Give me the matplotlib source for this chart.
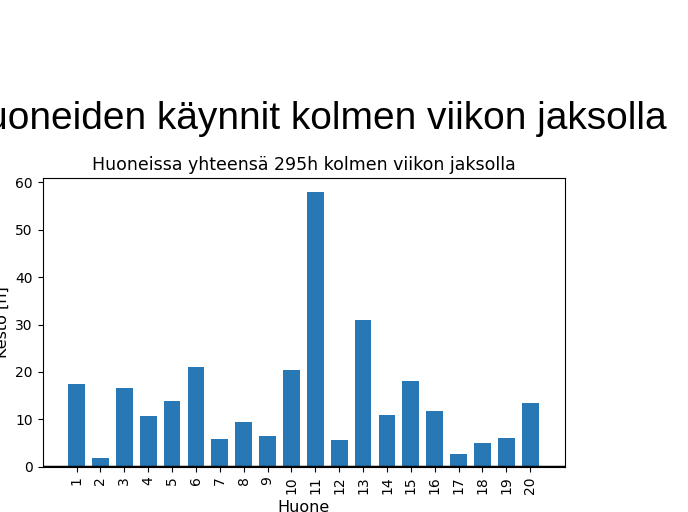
import matplotlib
matplotlib.use("Agg")
import matplotlib.pyplot as plt

# Huoneiden käyntiajat (h)
huoneet = [str(i) for i in range(1, 21)]
kesto = [17.5, 1.8, 16.7, 10.6, 13.9, 21.1, 5.9, 9.5, 6.5, 20.5,
         58.0, 5.6, 31.0, 11.0, 18.0, 11.7, 2.6, 5.1, 6.0, 13.4]

fig = plt.figure(figsize=(6.88, 5.12), dpi=100)
ax = fig.add_axes([0.062, 0.0885, 0.759, 0.5635])

paikat = list(range(1, len(huoneet) + 1))
ax.bar(paikat, kesto, width=0.7, color='#2878b5')
ax.axhline(0, color='black', linewidth=2.5)

ax.set_xticks(paikat)
ax.set_xticklabels(huoneet, rotation=90)
ax.set_xlim(-0.42, 21.45)
ax.tick_params(labelsize=10)

ax.set_xlabel('Huone', fontsize=11.5)
ax.set_ylabel('Kesto [h]', fontsize=11.5)
ax.set_title('Huoneissa yhteensä 295h kolmen viikon jaksolla', fontsize=12.5)

fig.text(666.7 / 688, 1 - 129 / 512, 'Huoneiden käynnit kolmen viikon jaksolla',
         ha='right', va='baseline', fontsize=28, family='Liberation Sans')

fig.savefig('out.png', dpi=100)
